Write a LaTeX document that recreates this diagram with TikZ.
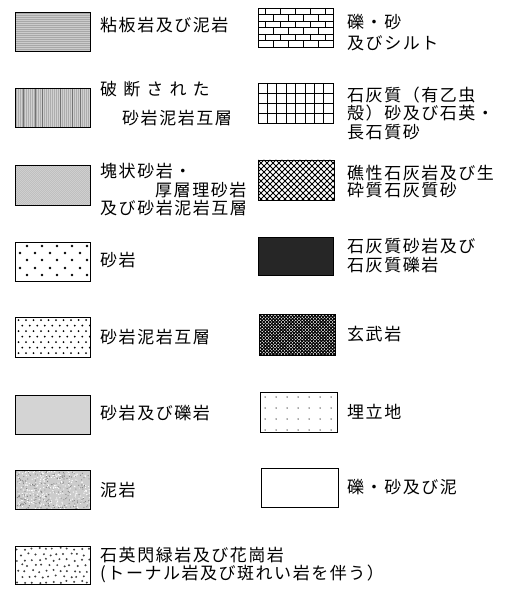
\documentclass[tikz,border=0pt]{standalone}
\usepackage{fontspec}
\newfontfamily\jp[LetterSpace=9]{Noto Sans CJK JP}
\newfontfamily\jpw[LetterSpace=36]{Noto Sans CJK JP}
\newcommand\patbox[5]{%
  \begin{scope}
    \clip (#1,#2) rectangle ++(#3,#4);
    \begin{scope}[shift={(#1,#2)}]
      #5
    \end{scope}
  \end{scope}}
\newcommand\pslate{%
  \fill[black!20] (0,0) rectangle (80,42);
  \foreach \yy in {1,3,...,41} \draw[black!34, line width=0.35pt] (0,\yy) -- (80,\yy);}
\newcommand\pfract{%
  \fill[black!18] (0,0) rectangle (80,42);
  \foreach \xx in {1,3,...,79} \draw[black!32, line width=0.35pt] (\xx,0) -- (\xx,42);
  \foreach \xx in {8,20,27,45,57,65} \draw[black!55, line width=0.45pt] (\xx,0) -- (\xx,42);}
\newcommand\pmass{%
  \fill[black!18] (0,0) rectangle (80,42);
  \foreach \xx in {-44,-42,...,80} \draw[black!32, line width=0.35pt] (\xx,42) -- (\xx+42,0);}
\newcommand\psand{%
  \foreach \yy/\off in {4/12,11/5,18/12,26/5,33/12}
    \foreach \c in {0,...,4} \fill[black] (\off+15*\c,\yy) circle (1.4pt);}
\newcommand\palt{%
  \foreach \r in {0,...,6} \foreach \c in {0,...,9} {
    \pgfmathsetmacro\px{3.5+7.5*\c+mod(\r,2)*3.75}
    \fill[black] (\px,3+5.5*\r) circle (1pt);}}
\newcommand\pcong{\fill[black!17] (0,0) rectangle (80,42);}
\newcommand\pmud{%
  \fill[black!20] (0,0) rectangle (80,42);
  \pgfmathsetseed{7}
  \foreach \i in {1,...,240} {\pgfmathsetmacro\px{rnd*75}\pgfmathsetmacro\py{rnd*39}
    \fill[black!50] (\px,\py) circle (0.6pt);}
  \foreach \i in {1,...,260} {\pgfmathsetmacro\px{rnd*75}\pgfmathsetmacro\py{rnd*39}
    \fill[white] (\px,\py) circle (0.65pt);}}
\newcommand\pgran{%
  \pgfmathsetseed{3}
  \foreach \r in {0,...,6} \foreach \c in {0,...,10} {
    \pgfmathsetmacro\px{3+7*\c+mod(\r,2)*3.5+rand*1.5}
    \pgfmathsetmacro\py{3+5.5*\r+rand*1.2}
    \fill[black!75] (\px,\py) circle (1.1pt);}}
\newcommand\pbrick{%
  \foreach \k in {1,...,5} \draw[line width=0.8pt] (0,6.5*\k) -- (80,6.5*\k);
  \foreach \k in {0,...,5} \foreach \j in {0,...,5} {
    \pgfmathsetmacro\px{15*\j+7.5+mod(\k,2)*7.5}
    \draw[line width=0.8pt] (\px,6.5*\k) -- (\px,6.5*\k+6.5);}}
\newcommand\pgrid{%
  \foreach \j in {1,...,7} \draw[line width=0.7pt] (9.375*\j,0) -- (9.375*\j,42);
  \foreach \i in {1,...,3} \draw[line width=0.7pt] (0,10*\i) -- (80,10*\i);}
\newcommand\preef{%
  \foreach \k in {-8,...,22} {\draw[line width=0.9pt] (6*\k,0) -- (6*\k+42,42);
    \draw[line width=0.9pt] (6*\k,0) -- (6*\k-42,42);}}
\newcommand\pbasalt{%
  \foreach \k in {-14,...,38} {\draw[line width=0.95pt] (3.2*\k,0) -- (3.2*\k+44,44);
    \draw[line width=0.95pt] (3.2*\k,0) -- (3.2*\k-44,44);}}
\newcommand\pland{%
  \foreach \yy in {5,16,27,38} \foreach \c in {0,...,6} \fill[black!70] (5+11*\c,\yy) circle (0.75pt);}
\begin{document}
\begin{tikzpicture}[x=1pt,y=-1pt]
\tikzset{
  lbox/.style={draw, line width=1.1pt, minimum width=75pt, minimum height=39pt, inner sep=0pt, anchor=north west},
  lbl/.style={anchor=west, inner sep=0pt, font=\jp\fontsize{17}{17}\selectfont},
  wlbl/.style={lbl, font=\jpw\fontsize{17}{17}\selectfont},
}
\useasboundingbox[fill=white] (0,0) rectangle (516,593);
% patterns
\patbox{15}{12}{75}{39}{\pslate}
\patbox{15}{88}{75}{39}{\pfract}
\patbox{15}{165}{75}{40}{\pmass}
\patbox{15}{242}{75}{39}{\psand}
\patbox{15}{317}{75}{40}{\palt}
\patbox{15}{395}{75}{39}{\pcong}
\patbox{15}{470}{75}{39}{\pmud}
\patbox{15}{546}{75}{38}{\pgran}
\patbox{258}{8}{75}{39}{\pbrick}
\patbox{258}{83}{75}{40}{\pgrid}
\patbox{258}{160}{76}{40}{\preef}
\patbox{258}{237}{75}{38}{\fill[black!85] (0,0) rectangle (80,42);}
\patbox{259}{314}{76}{41}{\pbasalt}
\patbox{260}{392}{77}{40}{\pland}
% left column boxes
\node[lbox] (b1) at (15,12) {};
\node[lbox] (b2) at (15,88) {};
\node[lbox, minimum height=40pt] (b3) at (15,165) {};
\node[lbox] (b4) at (15,242) {};
\node[lbox, minimum height=40pt] (b5) at (15,317) {};
\node[lbox] (b6) at (15,395) {};
\node[lbox] (b7) at (15,470) {};
\node[lbox, minimum height=38pt] (b8) at (15,546) {};
% right column boxes
\node[lbox] (c1) at (258,8) {};
\node[lbox, minimum height=40pt] (c2) at (258,83) {};
\node[lbox, minimum width=76pt, minimum height=40pt] (c3) at (258,160) {};
\node[lbox, minimum height=38pt] (c4) at (258,237) {};
\node[lbox, minimum width=76pt, minimum height=41pt] (c5) at (259,314) {};
\node[lbox, minimum width=77pt, minimum height=40pt] (c6) at (260,392) {};
\node[lbox, minimum width=77pt, line width=0.9pt] (c7) at (261,468) {};
% left labels
\node[lbl] (t1) at (100,25) {粘板岩及び泥岩};
\node[wlbl] (t2a) at (100,89.5) {破断された};
\node[lbl] (t2b) at (122,118.5) {砂岩泥岩互層};
\node[lbl] (t3a) at (100,171.5) {塊状砂岩・};
\node[lbl] (t3b) at (155,190) {厚層理砂岩};
\node[lbl] (t3c) at (100,208.5) {及び砂岩泥岩互層};
\node[lbl] (t4) at (100,260) {砂岩};
\node[lbl] (t5) at (100,337) {砂岩泥岩互層};
\node[lbl] (t6) at (100,413) {砂岩及び礫岩};
\node[lbl] (t7) at (100,490) {泥岩};
\node[lbl] (t8a) at (100,555) {石英閃緑岩及び花崗岩};
\node[lbl] (t8b) at (100,573.5) {(トーナル岩及び斑れい岩を伴う）};
% right labels
\node[lbl] (s1a) at (347,22) {礫・砂};
\node[lbl] (s1b) at (347,43.5) {及びシルト};
\node[lbl] (s2a) at (347,95) {石灰質（有乙虫};
\node[lbl] (s2b) at (347,113.5) {殻）砂及び石英・};
\node[lbl] (s2c) at (347,132.5) {長石質砂};
\node[lbl] (s3a) at (347,173.5) {礁性石灰岩及び生};
\node[lbl] (s3b) at (347,190) {砕質石灰質砂};
\node[lbl] (s4a) at (347,246.5) {石灰質砂岩及び};
\node[lbl] (s4b) at (347,265) {石灰質礫岩};
\node[lbl] (s5) at (347,334) {玄武岩};
\node[lbl] (s6) at (347,412) {埋立地};
\node[lbl] (s7) at (347,487) {礫・砂及び泥};
\end{tikzpicture}
\end{document}
